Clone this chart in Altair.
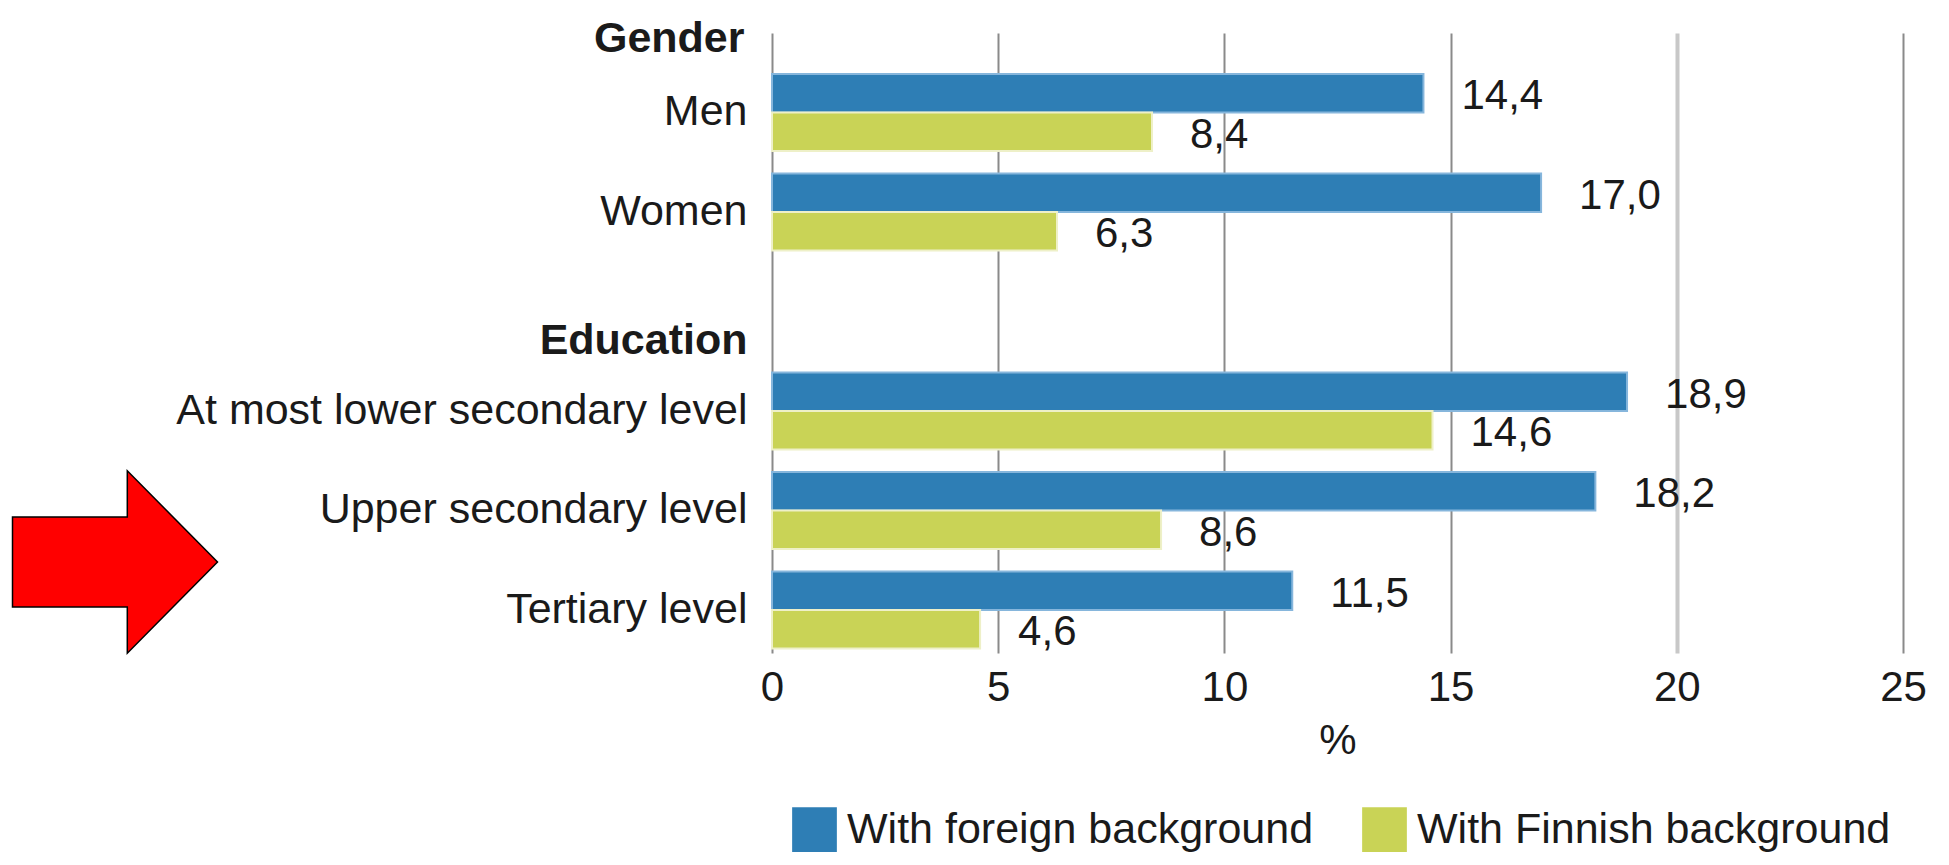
import altair as alt
import pandas as pd

# ---- data ----
categories = ["Men", "Women", "Education", "At most lower secondary level",
              "Upper secondary level", "Tertiary level"]
rows = ["Men", "Women", "At most lower secondary level",
        "Upper secondary level", "Tertiary level"]
foreign = [14.4, 17.0, 18.9, 18.2, 11.5]
finnish = [8.4, 6.3, 14.6, 8.6, 4.6]
series = ["With foreign background", "With Finnish background"]
colors = ["#2e7eb5", "#c9d356"]
edge_colors = ["#86b6dc", "#eef0c8"]
x_ticks = [0, 5, 10, 15, 20, 25]

records = []
for r, f, n in zip(rows, foreign, finnish):
    records.append({"group": r, "series": series[0], "value": f})
    records.append({"group": r, "series": series[1], "value": n})
df = pd.DataFrame(records)

FONT = "Liberation Sans"
TXT = "#1a1a1a"

y_enc = alt.Y(
    "group:N",
    scale=alt.Scale(domain=categories, paddingInner=0.226, paddingOuter=0.2286, align=0.9),
    axis=alt.Axis(
        title="Gender", titleAngle=0, titleAlign="right", titleBaseline="alphabetic",
        titleX=-28, titleY=18, titleFontWeight="bold", titleFontSize=43,
        titleColor=TXT, titleFont=FONT,
        labelFontSize=43, labelFont=FONT, labelColor=TXT, labelPadding=25,
        labelLimit=1000, ticks=False, domain=False,
        labelFontWeight={"condition": {"test": "datum.value === 'Education'", "value": "bold"},
                         "value": "normal"},
        labelOffset={"condition": {"test": "datum.value === 'Education'", "value": 30},
                     "value": 0},
    ),
)

x_enc = alt.X(
    "value:Q",
    scale=alt.Scale(domain=[0, 25], nice=False),
    axis=alt.Axis(
        values=x_ticks, format="d", title="%", grid=True, domain=False, ticks=False,
        labelFlush=False,
        gridColor={"condition": {"test": "datum.value === 20", "value": "#c8c8c8"},
                   "value": "#8a8a8a"},
        gridWidth={"condition": {"test": "datum.value === 20", "value": 4}, "value": 2},
        labelFontSize=42, labelFont=FONT, labelColor=TXT, labelPadding=14,
        titleFontSize=42, titleFont=FONT, titleColor=TXT, titleFontWeight="normal",
        titlePadding=12,
    ),
)

yoff = alt.YOffset("series:N", sort=series, scale=alt.Scale(paddingInner=0, paddingOuter=0))

base = alt.Chart(df)

bars = base.mark_bar(strokeWidth=2).encode(
    x=x_enc,
    y=y_enc,
    yOffset=yoff,
    color=alt.Color(
        "series:N", sort=series,
        scale=alt.Scale(domain=series, range=colors),
        legend=alt.Legend(
            orient="none", legendX=20, legendY=774, direction="horizontal", title=None,
            symbolType="square", symbolSize=2000, symbolStrokeWidth=0,
            labelFontSize=43, labelFont=FONT, labelColor=TXT, labelLimit=1000,
            columnPadding=48, labelOffset=10,
        ),
    ),
    stroke=alt.Stroke("series:N", scale=alt.Scale(domain=series, range=edge_colors), legend=None),
)

labels = base.transform_calculate(
    label="replace(format(datum.value, '.1f'), '.', ',')"
).mark_text(align="left", baseline="middle", dx=38, dy=3, fontSize=42, font=FONT, color=TXT).encode(
    x=alt.X("value:Q"),
    y=alt.Y("group:N"),
    yOffset=yoff,
    text="label:N",
)

arrow_df = pd.DataFrame({"k": [0]})
arrow_path = "M -1 -0.44 L 0.12 -0.44 L 0.12 -0.89 L 1 0 L 0.12 0.89 L 0.12 0.44 L -1 0.44 Z"
arrow = alt.Chart(arrow_df).mark_point(
    shape=arrow_path, size=42025, filled=True, color="#ff0000", fill="#ff0000",
    stroke="#000000", strokeWidth=1.5, opacity=1,
).encode(x=alt.value(-657), y=alt.value(529))

chart = alt.layer(bars, labels, arrow).properties(
    width=1131, height=620,
    autosize=alt.AutoSizeParams(type="none"),
    padding={"left": 764, "top": 25, "right": 38, "bottom": 204},
    background="white",
).configure_view(stroke=None)

chart.save("out.html", embed_options={"renderer": "svg", "actions": False})
